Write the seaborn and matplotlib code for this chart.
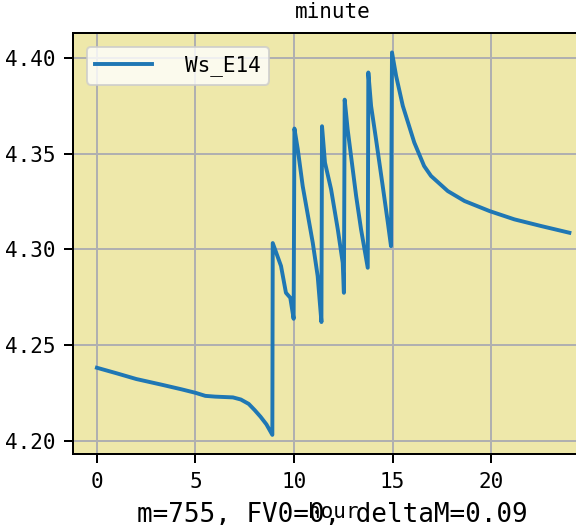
import pandas as pd
import matplotlib
matplotlib.use('Agg')
import matplotlib.pyplot as plt
from matplotlib.ticker import MultipleLocator, FormatStrFormatter
import seaborn as sns

# values
hours = [
    0.0, 1.0, 2.0, 3.3, 4.3, 5.0, 5.5, 6.0, 6.9, 7.3, 7.7, 8.0, 8.3, 8.6, 8.9,
    8.92, 9.34, 9.59, 9.81, 9.98,
    10.02, 10.19, 10.44, 10.95, 11.2, 11.39,
    11.42, 11.57, 11.88, 12.22, 12.47, 12.53,
    12.57, 12.72, 13.15, 13.4, 13.74,
    13.77, 13.91, 14.16, 14.5, 14.76, 14.92,
    14.97, 15.18, 15.52, 16.1, 16.6, 16.95, 17.8, 18.65, 19.93, 21.18, 22.54, 23.97,
]
ws_e14 = [
    4.2381, 4.2352, 4.2322, 4.2292, 4.2268, 4.2250, 4.2234, 4.2230, 4.2226, 4.2215, 4.2192, 4.2160, 4.2125, 4.2085, 4.2030,
    4.3033, 4.2913, 4.2773, 4.2747, 4.2637,
    4.3632, 4.3524, 4.3331, 4.3035, 4.2860, 4.2620,
    4.3644, 4.3454, 4.3314, 4.3105, 4.2930, 4.2773,
    4.3783, 4.3628, 4.3280, 4.3105, 4.2904,
    4.3925, 4.3750, 4.3576, 4.3331, 4.3140, 4.3017,
    4.4030, 4.3907, 4.3750, 4.3559, 4.3436, 4.3384, 4.3305, 4.3253, 4.3200, 4.3157, 4.3122, 4.3087,
]
series_name = 'Ws_E14'
note = 'm=755, FV0=0, deltaM=0.09'

data = pd.DataFrame({'hour': hours, series_name: ws_e14})

plt.rcParams['font.family'] = ['DejaVu Sans Mono', 'Noto Sans CJK SC']
plt.rcParams['font.size'] = 10.5

fig = plt.figure(figsize=(4, 525 / 144), dpi=144)
# the axes runs past the right edge of the figure, as in the reference
ax = fig.add_axes([73.3 / 576, 1 - 454 / 525, (593 - 73.3) / 576, (454 - 33.3) / 525])
ax.set_facecolor('#eee8aa')

sns.lineplot(data=data, x='hour', y=series_name, estimator=None, sort=False,
             color='#1f77b4', lw=1.95, label=series_name, ax=ax)

ax.xaxis.set_major_locator(MultipleLocator(5))
ax.yaxis.set_major_locator(MultipleLocator(0.05))
ax.yaxis.set_major_formatter(FormatStrFormatter('%.2f'))

ax.grid(True, color='#b0b0b0', lw=1.0)
ax.set_axisbelow(True)
for s in ax.spines.values():
    s.set_linewidth(1.0)
ax.tick_params(length=4.5, width=1.0, pad=4.5, labelsize=10.5)

ax.set_title('minute', fontsize=10.5, pad=7.5)
ax.set_xlabel('hour', fontsize=10.5, labelpad=5)
ax.set_ylabel('')

ax.legend(loc='upper left', fontsize=10.5, handlelength=2.7, handletextpad=1.55,
          borderaxespad=0.65)

fig.text(332 / 576, 1 - 522 / 525, note, fontsize=13, ha='center', va='baseline')

fig.savefig('out.png', dpi=144)
